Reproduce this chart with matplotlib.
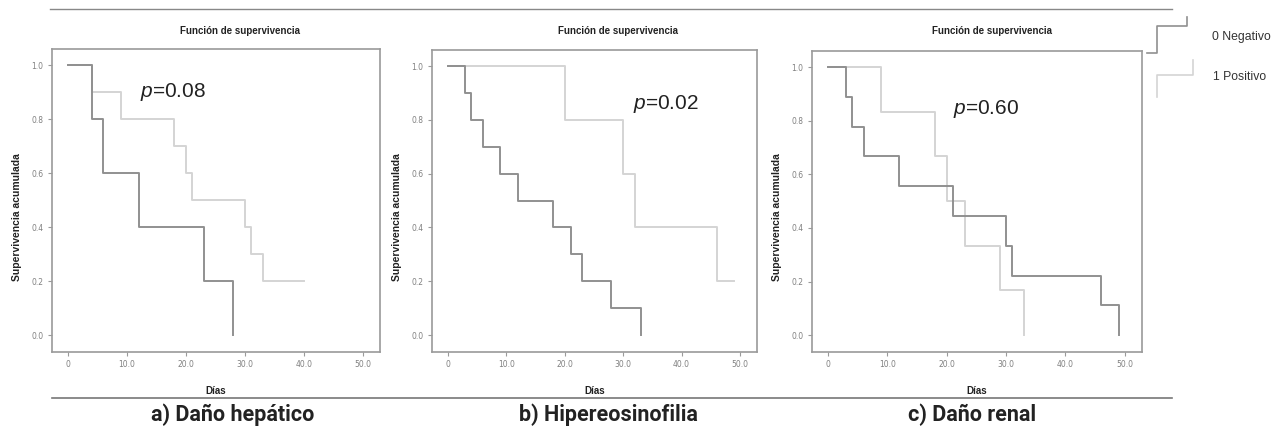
import matplotlib
matplotlib.use("Agg")
import matplotlib.pyplot as plt
from matplotlib.lines import Line2D

plt.rcParams['mathtext.fontset'] = 'custom'
plt.rcParams['mathtext.rm'] = 'Liberation Sans'
plt.rcParams['mathtext.it'] = 'Liberation Sans:italic'

# ---- data ----
panel_labels = ["a) Daño hepático", "b) Hipereosinofilia", "c) Daño renal"]
p_values = ["0.08", "0.02", "0.60"]
legend_labels = ["0 Negativo", "1 Positivo"]
x_ticks = [0, 10, 20, 30, 40, 50]
x_tick_labels = ["0", "10.0", "20.0", "30.0", "40.0", "50.0"]
y_ticks = [0.0, 0.2, 0.4, 0.6, 0.8, 1.0]
y_tick_labels = ["0.0", "0.2", "0.4", "0.6", "0.8", "1.0"]

a_neg_t = [0, 4, 6, 12, 23, 28]
a_neg_s = [1.0, 0.8, 0.6, 0.4, 0.2, 0.0]
a_pos_t = [0, 4, 9, 18, 20, 21, 30, 31, 33, 40]
a_pos_s = [1.0, 0.9, 0.8, 0.7, 0.6, 0.5, 0.4, 0.3, 0.2, 0.2]

b_neg_t = [0, 3, 4, 6, 9, 12, 18, 21, 23, 28, 33]
b_neg_s = [1.0, 0.9, 0.8, 0.7, 0.6, 0.5, 0.4, 0.3, 0.2, 0.1, 0.0]
b_pos_t = [0, 20, 30, 32, 46, 49]
b_pos_s = [1.0, 0.8, 0.6, 0.4, 0.2, 0.2]

c_neg_t = [0, 3, 4, 6, 12, 21, 30, 31, 46, 49]
c_neg_s = [1.0, 0.889, 0.778, 0.667, 0.556, 0.444, 0.333, 0.222, 0.111, 0.0]
c_pos_t = [0, 9, 18, 20, 23, 29, 33]
c_pos_s = [1.0, 0.833, 0.667, 0.5, 0.333, 0.167, 0.0]

# ---- style ----
W, H = 1286, 430
DARK = "#909090"
LIGHT = "#d4d4d4"
FRAME = "#9a9a9a"
TEXT = "#222222"

fig = plt.figure(figsize=(W / 100, H / 100), dpi=100)

def fx(px):
    return px / W

def fy(py):
    return 1 - py / H

panels = [
    dict(l=52, r=380, t=49, b=352, neg=(a_neg_t, a_neg_s), pos=(a_pos_t, a_pos_s),
         p=(12.2, 0.90), title_x=240, ylab_x=17, lab_x=233),
    dict(l=432, r=757, t=50, b=352, neg=(b_neg_t, b_neg_s), pos=(b_pos_t, b_pos_s),
         p=(31.7, 0.86), title_x=618, ylab_x=397, lab_x=608),
    dict(l=812, r=1142, t=51, b=352, neg=(c_neg_t, c_neg_s), pos=(c_pos_t, c_pos_s),
         p=(21.1, 0.845), title_x=992, ylab_x=777, lab_x=972),
]

for i, pn in enumerate(panels):
    ax = fig.add_axes([fx(pn['l']), fy(pn['b']), fx(pn['r'] - pn['l']), (pn['b'] - pn['t']) / H])
    ax.step(pn['pos'][0], pn['pos'][1], where='post', color=LIGHT, lw=1.4)
    ax.step(pn['neg'][0], pn['neg'][1], where='post', color=DARK, lw=1.4)
    ax.set_xlim(-2.7, 52.9)
    ax.set_ylim(-0.063, 1.06)
    ax.set_xticks(x_ticks)
    ax.set_xticklabels(x_tick_labels)
    ax.set_yticks(y_ticks)
    ax.set_yticklabels(y_tick_labels)
    ax.tick_params(axis='both', length=3, width=0.8, color=FRAME, labelsize=5.5,
                   labelcolor="#808080", pad=3, direction='out')
    for sp in ax.spines.values():
        sp.set_color(FRAME)
        sp.set_linewidth(1.2)
    ax.text(pn['p'][0], pn['p'][1], "$p$=" + p_values[i], fontsize=15,
            family='Liberation Sans', color=TEXT, va='center', ha='left')
    ax.set_xlabel("Días", fontsize=7, fontweight='bold', family='Liberation Sans',
                  color=TEXT, labelpad=12)
    fig.text(fx(pn['title_x']), fy(31), "Función de supervivencia", fontsize=7,
             fontweight='bold', family='Liberation Sans', color=TEXT, ha='center', va='center')
    fig.text(fx(pn['ylab_x']), fy(217), "Supervivencia acumulada", fontsize=7.5,
             fontweight='bold', family='Liberation Sans', color=TEXT, ha='center', va='center',
             rotation=90)
    fig.text(fx(pn['lab_x']), fy(415), panel_labels[i], fontsize=15.5, fontweight='bold',
             family='Roboto', color=TEXT, ha='center', va='center')

# separator lines
fig.add_artist(Line2D([fx(50), fx(1172)], [fy(9), fy(9)], color="#888888", lw=1.0))
fig.add_artist(Line2D([fx(52), fx(1172)], [fy(398), fy(398)], color="#777777", lw=1.2))

# legend glyphs
fig.add_artist(Line2D([fx(1147), fx(1157), fx(1157), fx(1187), fx(1187)],
                      [fy(53), fy(53), fy(26), fy(26), fy(17)], color=DARK, lw=1.2))
fig.add_artist(Line2D([fx(1157), fx(1157), fx(1193), fx(1193)],
                      [fy(97), fy(75), fy(75), fy(60)], color=LIGHT, lw=1.2))
fig.text(fx(1212), fy(37), legend_labels[0], fontsize=8.8, family='Liberation Sans',
         color="#333333", ha='left', va='center')
fig.text(fx(1213), fy(77), legend_labels[1], fontsize=8.8, family='Liberation Sans',
         color="#333333", ha='left', va='center')

fig.savefig("out.png", dpi=100, facecolor='white')
